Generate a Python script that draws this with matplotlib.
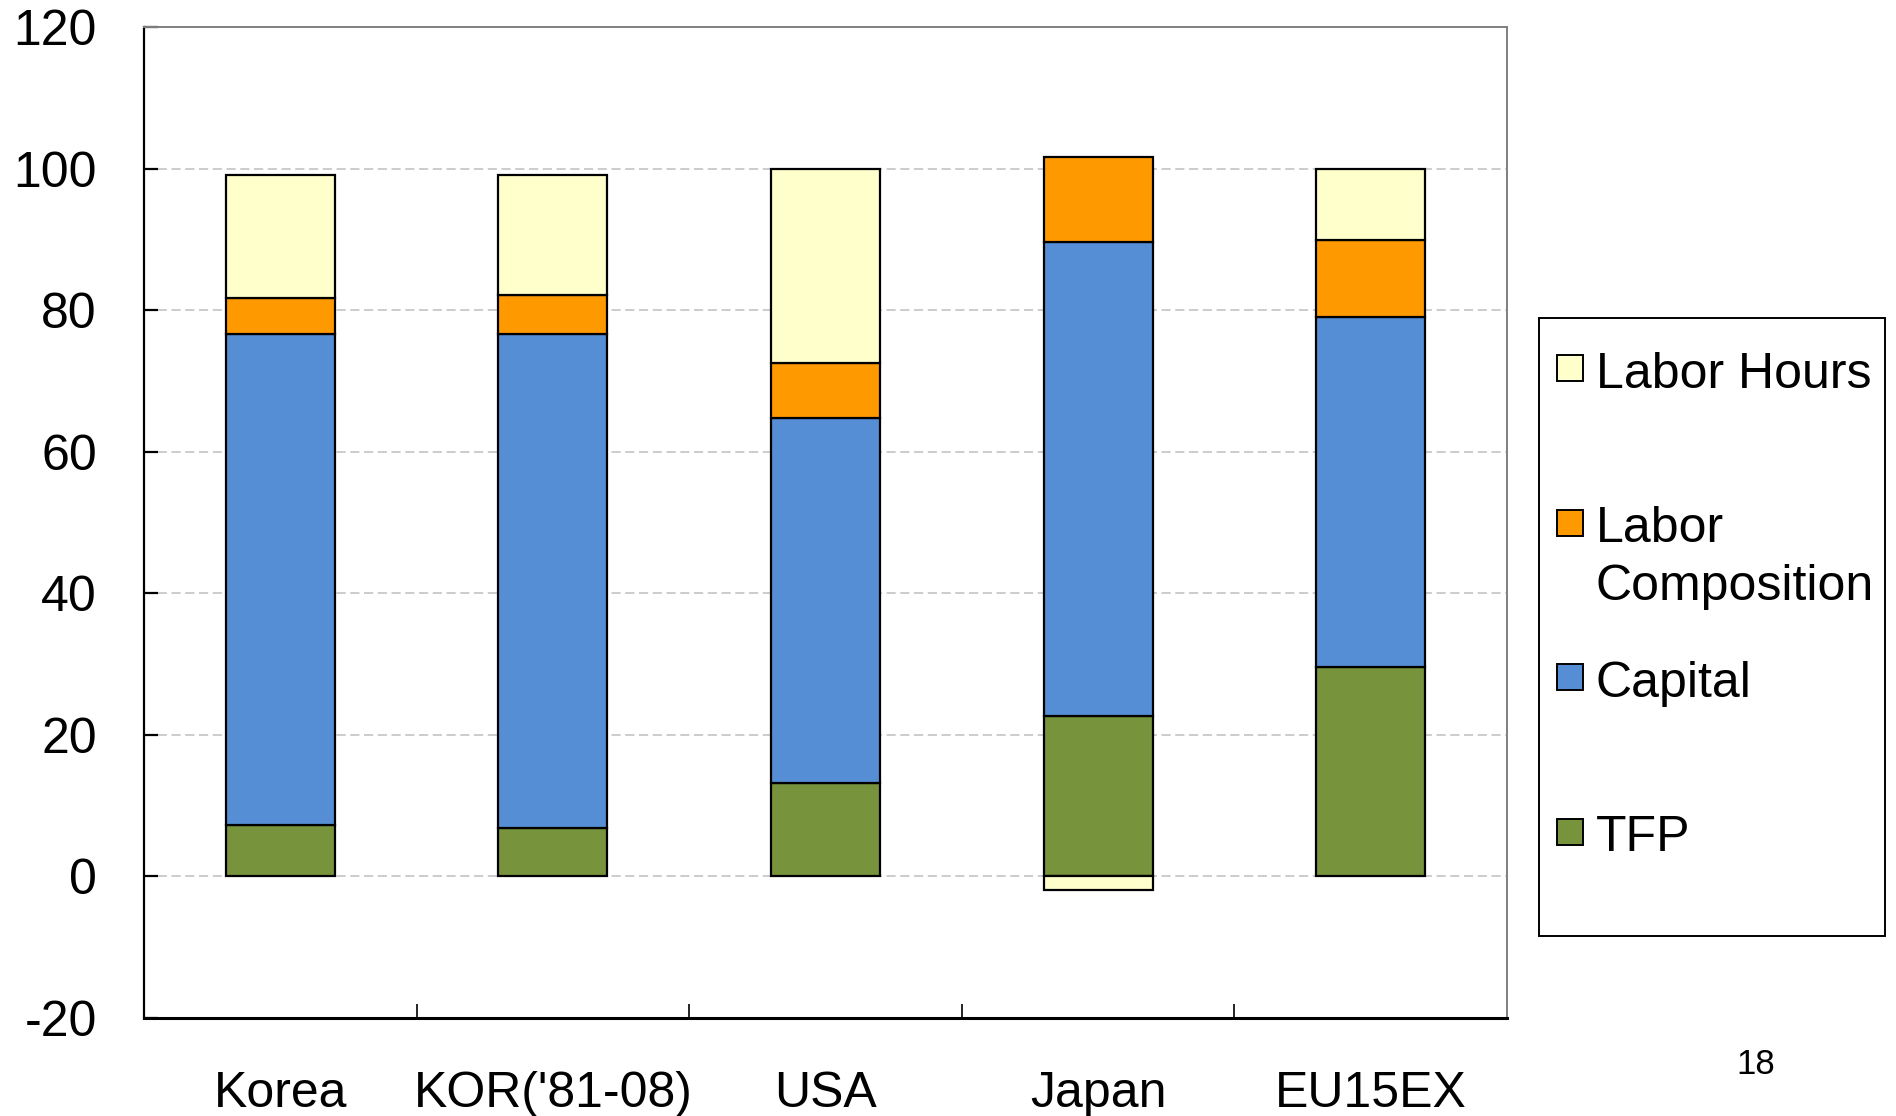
import matplotlib
matplotlib.use("Agg")
import matplotlib.pyplot as plt
from matplotlib.patches import Rectangle
import numpy as np

plt.rcParams['font.family'] = ['Liberation Sans', 'DejaVu Sans']

# Growth contribution shares (%)
countries = ["Korea", "KOR('81-08)", "USA", "Japan", "EU15EX"]
tfp = [7.2, 6.9, 13.2, 22.6, 29.6]
capital = [69.4, 69.7, 51.6, 67.0, 49.4]
labor_composition = [5.1, 5.5, 7.8, 12.1, 10.9]
labor_hours = [17.4, 17.0, 27.4, -1.9, 10.1]

series = [
    ("TFP", tfp, "#77933C"),
    ("Capital", capital, "#558ED5"),
    ("Labor\nComposition", labor_composition, "#FF9900"),
    ("Labor Hours", labor_hours, "#FFFFCC"),
]
y_ticks = [-20, 0, 20, 40, 60, 80, 100, 120]

W, H = 1896, 1116
fig = plt.figure(figsize=(W / 100, H / 100), dpi=100)
ax = fig.add_axes([144 / W, 1 - 1018 / H, (1507 - 144) / W, (1018 - 27) / H])

x = np.arange(len(countries))
pos_base = np.zeros(len(countries))
neg_base = np.zeros(len(countries))
for name, vals, color in series:
    v = np.array(vals, dtype=float)
    bottoms = np.where(v >= 0, pos_base, neg_base)
    ax.bar(x, v, width=0.4, bottom=bottoms, color=color,
           edgecolor="black", linewidth=1.6, zorder=3)
    pos_base = pos_base + np.where(v >= 0, v, 0)
    neg_base = neg_base + np.where(v < 0, v, 0)

ax.set_xlim(-0.5, len(countries) - 0.5)
ax.set_ylim(-20, 120)
ax.set_yticks(y_ticks)
ax.set_yticklabels([str(t) for t in y_ticks], fontsize=36)
ax.tick_params(axis="y", direction="in", length=10, width=1.6, pad=34)

# category boundaries carry the x ticks; names sit centred under each bar
ax.set_xticks(np.arange(0.5, len(countries) - 0.5, 1.0))
ax.set_xticklabels([])
ax.tick_params(axis="x", direction="in", length=10, width=1.2)
for xi, name in zip(x, countries):
    ax.text(xi, -32.6, name, ha="center", va="baseline", fontsize=36,
            transform=ax.transData, clip_on=False)

for yv in [0, 20, 40, 60, 80, 100]:
    ax.axhline(yv, color="#BFBFBF", linewidth=1.1, linestyle=(0, (6, 3)), zorder=1)

ax.spines["left"].set_linewidth(1.6)
ax.spines["left"].set_color("black")
ax.spines["bottom"].set_linewidth(2.2)
ax.spines["bottom"].set_color("black")
ax.spines["top"].set_color("#808080")
ax.spines["top"].set_linewidth(1.4)
ax.spines["right"].set_color("#808080")
ax.spines["right"].set_linewidth(1.4)


def fx(px):
    return px / W


def fy(py):
    return 1 - py / H


# legend box
fig.patches.append(Rectangle((fx(1539), fy(936)), fx(1885) - fx(1539), fy(318) - fy(936),
                             transform=fig.transFigure, fill=False,
                             edgecolor="black", linewidth=1.4))
legend_rows = [
    ("Labor Hours", "#FFFFCC", 355, [388]),
    ("Labor\nComposition", "#FF9900", 510, [542, 600]),
    ("Capital", "#558ED5", 664, [697]),
    ("TFP", "#77933C", 819, [851]),
]
for label, color, top, baselines in legend_rows:
    fig.patches.append(Rectangle((fx(1557), fy(top + 26)), fx(1583) - fx(1557), fy(top) - fy(top + 26),
                                 transform=fig.transFigure, facecolor=color,
                                 edgecolor="black", linewidth=1.4))
    for line, bl in zip(label.split("\n"), baselines):
        fig.text(fx(1596), fy(bl), line, fontsize=36, ha="left", va="baseline")

fig.text(fx(1756), fy(1074), "18", fontsize=25, ha="center", va="baseline")

fig.savefig("out.png", dpi=100)
